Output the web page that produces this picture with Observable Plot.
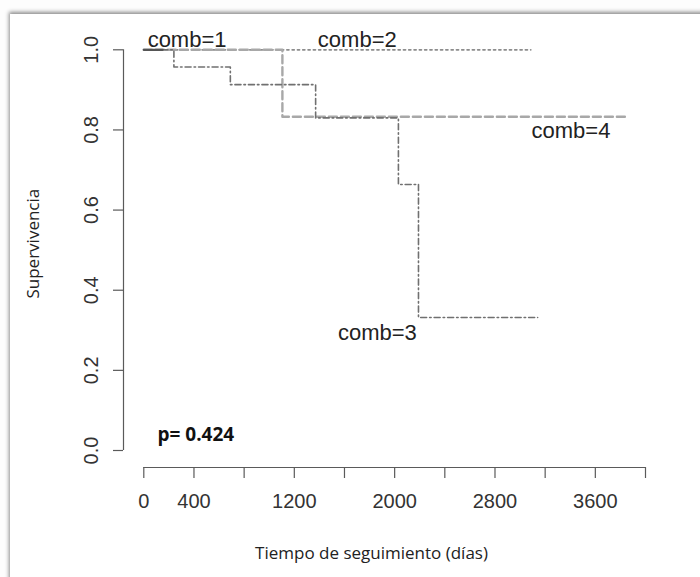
<!DOCTYPE html>
<html>
<head>
<meta charset="utf-8">
<script src="https://cdn.jsdelivr.net/npm/d3@7"></script>
<script src="https://cdn.jsdelivr.net/npm/@observablehq/plot@0.6"></script>
<style>
  html, body { margin: 0; padding: 0; background: #ffffff; overflow: hidden; }
  #wrap { position: relative; width: 700px; height: 577px; overflow: hidden; background: #fdfdfd; }
  #panel {
    position: absolute; left: 10px; top: 14px; width: 720px; height: 600px;
    background: #ffffff;
    box-shadow: -1px -2px 4px rgba(0,0,0,0.45);
  }
  #chart { position: absolute; left: 0; top: 0; }
</style>
</head>
<body>
<div id="wrap">
  <div id="panel"></div>
  <div id="chart"></div>
</div>
<script>
// Kaplan–Meier survival by group (time in days, survival proportion)
const comb1Time = [0, 150];
const comb1Surv = [1, 1];
const comb2Time = [0, 3085];
const comb2Surv = [1, 1];
const comb3Time = [0, 240, 690, 1370, 2030, 2190, 3140];
const comb3Surv = [1, 0.957, 0.913, 0.830, 0.664, 0.332, 0.332];
const comb4Time = [0, 1105, 3855];
const comb4Surv = [1, 0.833, 0.833];

// Curve labels placed in data units
const labelText = ["comb=1", "comb=2", "comb=3", "comb=4"];
const labelTime = [345, 1702, 1862, 3406];
const labelSurv = [1.006, 1.006, 0.277, 0.779];

// Axis ticks
const xTicks = [0, 400, 800, 1200, 1600, 2000, 2400, 2800, 3200, 3600, 4000];
const xTickLabels = [0, 400, 1200, 2000, 2800, 3600];
const yTicks = [0, 0.2, 0.4, 0.6, 0.8, 1.0];

const pValue = "p= 0.424";
const xTitle = "Tiempo de seguimiento (días)";
const yTitle = "Supervivencia";

const toRows = (times, survs) => times.map((t, i) => ({time: t, surv: survs[i]}));
const s1 = toRows(comb1Time, comb1Surv);
const s2 = toRows(comb2Time, comb2Surv);
const s3 = toRows(comb3Time, comb3Surv);
const s4 = toRows(comb4Time, comb4Surv);
const labels = labelText.map((text, i) => ({text, time: labelTime[i], surv: labelSurv[i]}));

const axisColor = "#5a5a5a";
const sans = "'Liberation Sans', Arial, sans-serif";
const titleFont = "'Open Sans', 'Noto Sans', sans-serif";

const chart = Plot.plot({
  width: 700,
  height: 577,
  marginLeft: 123,
  marginRight: 55,
  marginTop: 49.3,
  marginBottom: 110,
  insetLeft: 20.3,
  insetBottom: 17,
  x: {domain: [0, 4000]},
  y: {domain: [0, 1]},
  style: {background: "transparent", fontFamily: sans, color: "#333"},
  marks: [
    // axis lines (R style: spanning the tick range only)
    Plot.ruleY([0], {x1: 0, x2: 4000, dy: 17, stroke: axisColor, strokeWidth: 1.2}),
    Plot.ruleX([0], {y1: 0, y2: 1, dx: -20.3, stroke: axisColor, strokeWidth: 1.2}),
    Plot.axisX({
      ticks: xTicks,
      tickSize: 11,
      tickPadding: 15,
      stroke: axisColor,
      strokeWidth: 1.2,
      fontSize: 20,
      fill: "#333",
      label: null,
      tickFormat: d => xTickLabels.includes(d) ? String(d) : ""
    }),
    Plot.axisY({
      ticks: yTicks,
      tickSize: 10,
      stroke: axisColor,
      strokeWidth: 1.2,
      label: null,
      tickFormat: () => ""
    }),
    Plot.text(yTicks, {
      y: d => d,
      text: d => d.toFixed(1),
      frameAnchor: "left",
      textAnchor: "middle",
      dx: -31.5,
      rotate: -90,
      fontSize: 20,
      fill: "#333"
    }),
    // survival curves
    Plot.line(s2, {x: "time", y: "surv", curve: "step-after", stroke: "#8c8c8c", strokeWidth: 1.8, strokeDasharray: "2,3.3"}),
    Plot.line(s4, {x: "time", y: "surv", curve: "step-after", stroke: "#a8a8a8", strokeWidth: 2.4, strokeDasharray: "8,4"}),
    Plot.line(s3, {x: "time", y: "surv", curve: "step-after", stroke: "#707070", strokeWidth: 1.6, strokeDasharray: "1.5,3,6,3"}),
    Plot.line(s1, {x: "time", y: "surv", curve: "step-after", stroke: "#555", strokeWidth: 2.2}),
    // curve labels
    Plot.text(labels, {x: "time", y: "surv", text: "text", lineAnchor: "bottom", fontSize: 22, fill: "#222"}),
    // log-rank p-value
    Plot.text([pValue], {x: 109, y: 0.0225, text: d => d, textAnchor: "start", lineAnchor: "bottom", fontSize: 19, fontWeight: "bold", fontFamily: titleFont, fill: "#111"}),
    // axis titles
    Plot.text([xTitle], {text: d => d, frameAnchor: "bottom", textAnchor: "middle", dx: -13, dy: 91, fontSize: 17, fontFamily: titleFont, fill: "#222"}),
    Plot.text([yTitle], {text: d => d, frameAnchor: "left", textAnchor: "middle", dx: -90, dy: -15, rotate: -90, fontSize: 17, fontFamily: titleFont, fill: "#222"})
  ]
});

document.getElementById("chart").appendChild(chart);
</script>
</body>
</html>
